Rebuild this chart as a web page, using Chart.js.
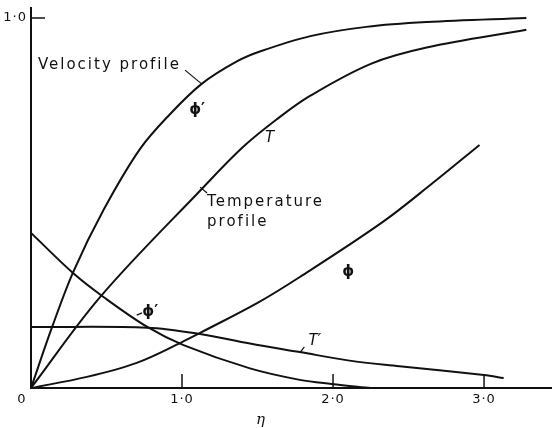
<!DOCTYPE html>
<html>
<head>
<meta charset="utf-8">
<script src="https://cdn.jsdelivr.net/npm/chart.js@4.4.1/dist/chart.umd.min.js"></script>
<style>
  html, body { margin: 0; padding: 0; background: #fff; }
  #wrap { width: 552px; height: 428px; }
</style>
</head>
<body>
<div id="wrap"><canvas id="chart" width="552" height="428"></canvas></div>
<script>
// values (eta along x)
const etaPhiP = [0, 0.14, 0.28, 0.48, 0.72, 0.92, 1.13, 1.36, 1.52, 1.85, 2.22, 2.62, 3.28];
const phiP    = [0, 0.165, 0.314, 0.481, 0.645, 0.74, 0.822, 0.882, 0.91, 0.951, 0.976, 0.989, 1.0];

const etaT = [0, 0.46, 1.14, 1.40, 1.63, 1.85, 2.25, 2.62, 3.28];
const T    = [0, 0.247, 0.542, 0.65, 0.727, 0.79, 0.876, 0.92, 0.968];

const etaPhi = [0, 0.37, 0.70, 1.0, 1.12, 1.5, 1.78, 2.33, 2.66, 2.97];
const phi    = [0, 0.03, 0.068, 0.124, 0.149, 0.23, 0.3, 0.449, 0.554, 0.657];

const etaPhiPP = [0, 0.28, 0.48, 0.77, 1.01, 1.45, 1.78, 1.99, 2.25];
const phiPP    = [0.419, 0.31, 0.246, 0.165, 0.116, 0.053, 0.022, 0.011, 0];

const etaTP = [0, 0.77, 1.12, 1.45, 1.78, 2.11, 2.44, 3.0, 3.13];
const TP    = [0.165, 0.163, 0.146, 0.12, 0.097, 0.074, 0.059, 0.035, 0.027];

const xTicks = [0, 1, 2, 3];
const xTickLabels = ['0', '1·0', '2·0', '3·0'];
const yTicks = [1];
const yTickLabels = ['1·0'];

function pts(xs, ys) {
    return xs.map((x, i) => ({ x: x, y: ys[i] }));
}

function series(xs, ys) {
    return {
        data: pts(xs, ys),
        borderColor: '#111',
        borderWidth: 2,
        pointRadius: 0,
        fill: false,
        tension: 0.35
    };
}

// curve labels, placed in data units
const notes = [
    { text: 'Velocity profile', x: 0.046, y: 0.873, align: 'left' },
    { text: 'ϕ′', x: 1.10, y: 0.751, align: 'center', bold: true },
    { text: 'T', x: 1.58, y: 0.676, align: 'center', italic: true },
    { text: 'Temperature', x: 1.166, y: 0.503, align: 'left' },
    { text: 'profile', x: 1.166, y: 0.449, align: 'left' },
    { text: 'ϕ', x: 2.10, y: 0.314, align: 'center', bold: true },
    { text: 'ϕ′', x: 0.79, y: 0.205, align: 'center', bold: true },
    { text: 'T′', x: 1.88, y: 0.126, align: 'center', italic: true }
];
const leaders = [
    [1.02, 0.859, 1.13, 0.822],
    [1.12, 0.543, 1.166, 0.527],
    [0.70, 0.197, 0.735, 0.203],
    [1.78, 0.095, 1.81, 0.111]
];

const decor = {
    id: 'decor',
    afterDraw(chart) {
        const ctx = chart.ctx;
        const xs = chart.scales.x;
        const ys = chart.scales.y;
        const area = chart.chartArea;
        ctx.save();
        ctx.strokeStyle = '#111';
        ctx.fillStyle = '#111';
        ctx.lineWidth = 1.5;

        // inner tick marks
        xTicks.forEach(t => {
            if (t === 0) return;
            const px = xs.getPixelForValue(t);
            ctx.beginPath();
            ctx.moveTo(px, area.bottom);
            ctx.lineTo(px, area.bottom - 14);
            ctx.stroke();
        });
        yTicks.forEach(t => {
            const py = ys.getPixelForValue(t);
            ctx.beginPath();
            ctx.moveTo(area.left, py);
            ctx.lineTo(area.left + 14, py);
            ctx.stroke();
        });

        // tick labels
        ctx.font = '13px "DejaVu Sans"';
        ctx.letterSpacing = '1px';
        ctx.textBaseline = 'middle';
        xTicks.forEach((t, i) => {
            const px = xs.getPixelForValue(t);
            ctx.textAlign = 'center';
            ctx.fillText(xTickLabels[i], t === 0 ? px - 9 : px, area.bottom + 12);
        });
        yTicks.forEach((t, i) => {
            ctx.textAlign = 'right';
            ctx.fillText(yTickLabels[i], area.left - 4, ys.getPixelForValue(t));
        });

        // axis title
        ctx.font = 'italic 15px "DejaVu Serif"';
        ctx.letterSpacing = '0px';
        ctx.textAlign = 'center';
        ctx.fillText('η', xs.getPixelForValue(1.52), area.bottom + 32);

        // curve labels
        notes.forEach(n => {
            ctx.font = (n.italic ? 'italic ' : '') + (n.bold ? 'bold ' : '') + '15px "DejaVu Sans"';
            ctx.letterSpacing = n.text.length > 3 ? '2px' : '0px';
            ctx.textAlign = n.align;
            ctx.fillText(n.text, xs.getPixelForValue(n.x), ys.getPixelForValue(n.y));
        });

        ctx.lineWidth = 1.2;
        leaders.forEach(l => {
            ctx.beginPath();
            ctx.moveTo(xs.getPixelForValue(l[0]), ys.getPixelForValue(l[1]));
            ctx.lineTo(xs.getPixelForValue(l[2]), ys.getPixelForValue(l[3]));
            ctx.stroke();
        });
        ctx.restore();
    }
};

const axisOpts = {
    display: true,
    ticks: { display: false },
    grid: { display: false, drawTicks: false },
    border: { display: true, color: '#111', width: 2 }
};

new Chart(document.getElementById('chart').getContext('2d'), {
    type: 'line',
    data: {
        datasets: [
            series(etaPhiP, phiP),
            series(etaT, T),
            series(etaPhi, phi),
            series(etaPhiPP, phiPP),
            series(etaTP, TP)
        ]
    },
    options: {
        responsive: false,
        animation: false,
        layout: { padding: { left: 31, top: 8, right: 0, bottom: 40 } },
        plugins: { legend: { display: false }, tooltip: { enabled: false } },
        scales: {
            x: Object.assign({ type: 'linear', min: 0, max: 3.45 }, axisOpts),
            y: Object.assign({ type: 'linear', min: 0, max: 1.027 }, axisOpts)
        }
    },
    plugins: [decor]
});
</script>
</body>
</html>
